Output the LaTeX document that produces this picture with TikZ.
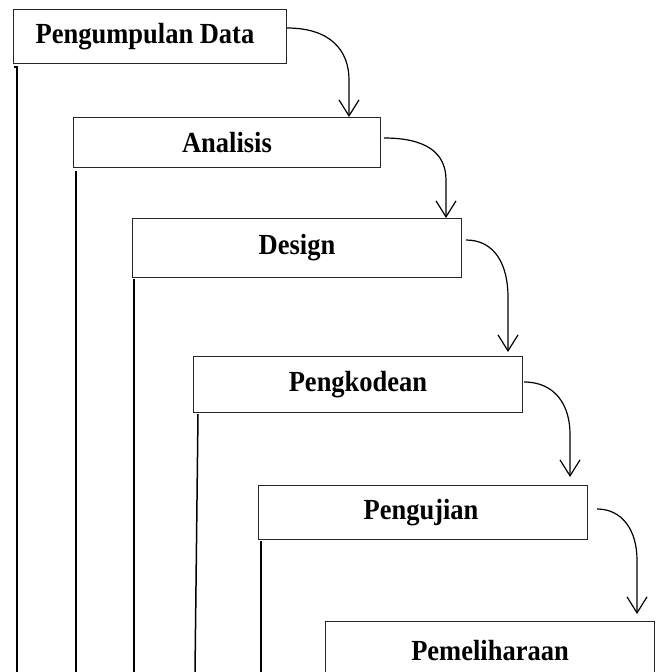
\documentclass[tikz,border=0pt]{standalone}
\usepackage{fontspec}
\setmainfont{Liberation Serif}
\usetikzlibrary{arrows.meta,calc}
\newcommand{\boxtxt}[1]{\scalebox{1}[1.1]{#1}}
\begin{document}
\begin{tikzpicture}[x=1pt,y=-1pt,
  box/.style={draw=black!85,line width=1pt,rectangle,inner sep=0pt,anchor=north west,
    font=\fontsize{26.5}{30}\selectfont\bfseries},
  flow/.style={line width=1.2pt,-{Straight Barb[length=16pt,width=20pt,line width=1.2pt]}},
  rail/.style={line width=1.5pt}]
\useasboundingbox (0,0) rectangle (659,672);
\coordinate (bot) at (0,672);
\node[box,minimum width=273pt,minimum height=54pt] (b1) at (13,9) {\boxtxt{Pengumpulan Data}\hspace*{10pt}};
\node[box,minimum width=307pt,minimum height=50pt] (b2) at (73,117) {\boxtxt{Analisis}};
\node[box,minimum width=329pt,minimum height=59pt] (b3) at (132,218) {\boxtxt{Design}};
\node[box,minimum width=329pt,minimum height=56pt] (b4) at (193,356) {\boxtxt{Pengkodean}};
\node[box,minimum width=329pt,minimum height=54pt] (b5) at (258,485) {\boxtxt{Pengujian}\hspace*{4pt}};
\node[box,minimum width=329pt,minimum height=58pt] (b6) at (325,621) {\boxtxt{Pemeliharaan}};
% connectors
\coordinate (s1) at (287,28); \coordinate (t1) at (349,0);
\draw[flow] (s1) .. controls (330,28) and (349,50) .. (349,80) -- (t1 |- b2.north);
\coordinate (s2) at (384,138); \coordinate (t2) at (446,0);
\draw[flow] (s2) .. controls (425,138) and (446,152) .. (446,180) -- (t2 |- b3.north);
\coordinate (s3) at (466,240); \coordinate (t3) at (508,0);
\draw[flow] (s3) .. controls (495,240) and (508,265) .. (508,297) -- ([yshift=4pt]t3 |- b4.north);
\coordinate (s4) at (524,382); \coordinate (t4) at (570,0);
\draw[flow] (s4) .. controls (555,382) and (570,405) .. (570,434) -- ([yshift=8pt]t4 |- b5.north);
\coordinate (s5) at (597,509); \coordinate (t5) at (637,0);
\draw[flow] (s5) .. controls (622,509) and (637,530) .. (637,560) -- ([yshift=7pt]t5 |- b6.north);
% rails
\coordinate (r1) at ([xshift=4pt,yshift=-3pt]b1.south west);
\draw[rail] ([xshift=-3pt]r1) -- (r1) -- (r1 |- bot);
\coordinate (r2) at ([xshift=3pt,yshift=-3pt]b2.south west);
\draw[rail] (r2) -- (r2 |- bot);
\coordinate (r3) at ([xshift=2pt,yshift=-1pt]b3.south west);
\draw[rail] (r3) -- (r3 |- bot);
\coordinate (r4) at ([xshift=5pt,yshift=-1pt]b4.south west);
\draw[rail] (r4) -- ([xshift=-3pt]r4 |- bot);
\coordinate (r5) at ([xshift=3pt,yshift=-1pt]b5.south west);
\draw[rail] (r5) -- (r5 |- bot);
\end{tikzpicture}
\end{document}
